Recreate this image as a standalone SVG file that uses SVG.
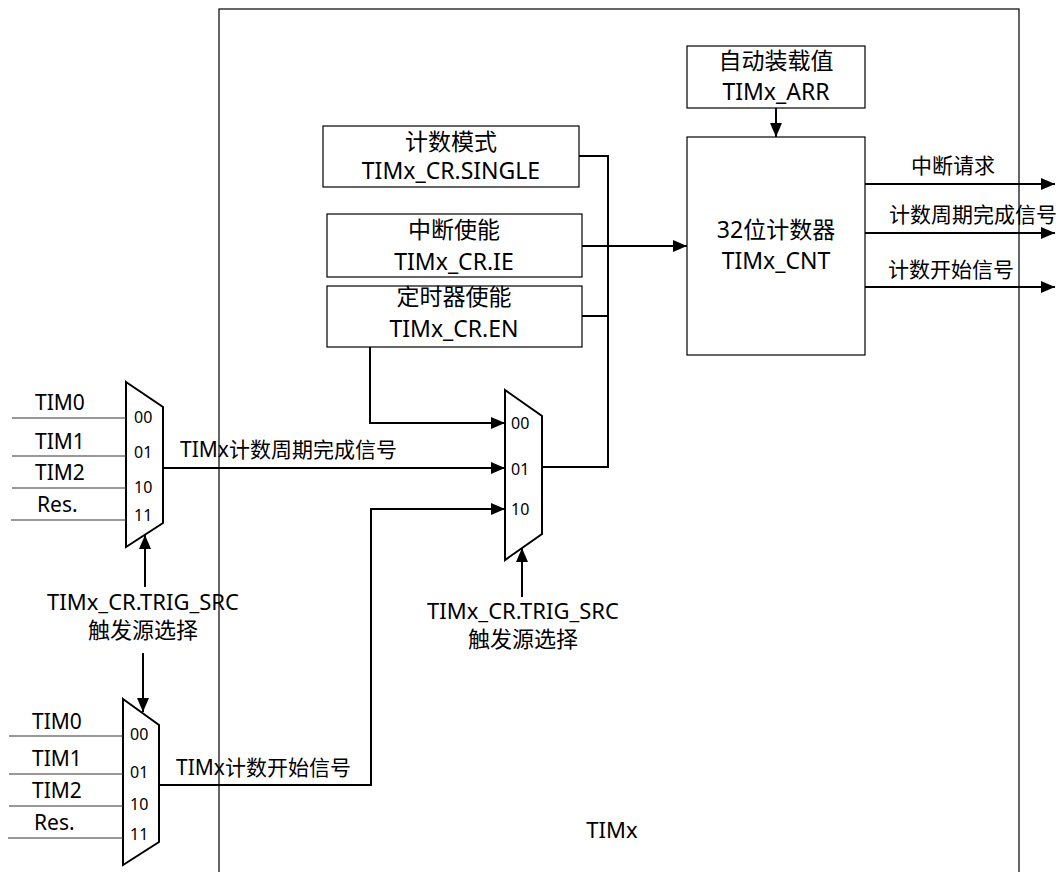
<svg xmlns="http://www.w3.org/2000/svg" width="1059" height="872" viewBox="0 0 1059 872">
<style>
text{font-family:"Noto Sans","Noto Sans CJK SC",sans-serif;fill:#000}
.bt{font-size:23px;text-anchor:middle}
.tr{font-size:22px;text-anchor:middle}
.lb{font-size:21px}
.sm{font-size:16px}
.box{fill:#fff;stroke:#000;stroke-width:1.2}
.mux{fill:#fff;stroke:#000;stroke-width:2}
.in{stroke:#333;stroke-width:1.2;fill:none}
.c{stroke:#000;stroke-width:2;fill:none}
</style>
<defs>
<marker id="arr" viewBox="0 0 14 12" refX="14" refY="6" markerWidth="14" markerHeight="12" markerUnits="userSpaceOnUse" orient="auto"><path d="M0,0 L14,6 L0,12 z" fill="#000"/></marker>
</defs>
<rect width="1059" height="872" fill="#fff"/>
<g id="timx">
<rect x="219" y="9" width="800" height="880" fill="none" stroke="#000" stroke-width="1.2"/>
<text x="612" y="838" class="tr">TIMx</text>
</g>
<g id="arr-box">
<rect class="box" x="687" y="46" width="178" height="62"/>
<text class="bt" x="776" y="69">自动装载值</text>
<text class="bt" x="776" y="100">TIMx_ARR</text>
</g>
<g id="cnt">
<rect class="box" x="687" y="137" width="178" height="218"/>
<text class="bt" x="776" y="238">32位计数器</text>
<text class="bt" x="776" y="269">TIMx_CNT</text>
</g>
<g id="single">
<rect class="box" x="323" y="126" width="256" height="61"/>
<text class="bt" x="451" y="150">计数模式</text>
<text class="bt" x="451" y="179">TIMx_CR.SINGLE</text>
</g>
<g id="ie">
<rect class="box" x="327" y="214" width="255" height="63"/>
<text class="bt" x="454" y="238">中断使能</text>
<text class="bt" x="454" y="270">TIMx_CR.IE</text>
</g>
<g id="en">
<rect class="box" x="327" y="286" width="255" height="61"/>
<text class="bt" x="454" y="305">定时器使能</text>
<text class="bt" x="454" y="337">TIMx_CR.EN</text>
</g>
<g id="mux-mid">
<path class="mux" d="M505,390 L542,416 L542,534 L505,560 Z"/>
<text class="sm" x="511" y="429">00</text>
<text class="sm" x="511" y="475">01</text>
<text class="sm" x="511" y="515">10</text>
<text class="tr" x="523" y="619">TIMx_CR.TRIG_SRC</text>
<text class="tr" x="523" y="647">触发源选择</text>
</g>
<g id="mux-top">
<path class="mux" d="M126,382 L163,407 L163,523 L126,547 Z"/>
<path class="in" d="M12,418 H126 M12,456 H126 M12,488 H126 M11,520 H126"/>
<text class="lb" x="35" y="410">TIM0</text>
<text class="lb" x="35" y="449">TIM1</text>
<text class="lb" x="35" y="480">TIM2</text>
<text class="lb" x="37" y="512">Res.</text>
<text class="sm" x="134" y="423">00</text>
<text class="sm" x="134" y="458">01</text>
<text class="sm" x="134" y="493">10</text>
<text class="sm" x="134" y="521">11</text>
<text class="tr" x="143" y="610">TIMx_CR.TRIG_SRC</text>
<text class="tr" x="143" y="638">触发源选择</text>
</g>
<g id="mux-bot">
<path class="mux" d="M123,699 L159,725 L159,842 L123,865 Z"/>
<path class="in" d="M9,736 H123 M9,774 H123 M9,806 H123 M8,838 H123"/>
<text class="lb" x="32" y="729">TIM0</text>
<text class="lb" x="32" y="766">TIM1</text>
<text class="lb" x="32" y="798">TIM2</text>
<text class="lb" x="34" y="830">Res.</text>
<text class="sm" x="130" y="740">00</text>
<text class="sm" x="130" y="778">01</text>
<text class="sm" x="130" y="810">10</text>
<text class="sm" x="130" y="840">11</text>
</g>
<g id="connectors">
<path class="c" d="M776,108 V137" marker-end="url(#arr)"/>
<path class="c" d="M865,184 H1055" marker-end="url(#arr)"/>
<path class="c" d="M865,233 H1055" marker-end="url(#arr)"/>
<path class="c" d="M865,287 H1055" marker-end="url(#arr)"/>
<path class="c" d="M579,156 H608 V467 H542"/>
<path class="c" d="M582,316 H608"/>
<path class="c" d="M582,246 H687" marker-end="url(#arr)"/>
<path class="c" d="M370,347 V423 H505" marker-end="url(#arr)"/>
<path class="c" d="M163,468 H505" marker-end="url(#arr)"/>
<path class="c" d="M159,785 H371 V509 H505" marker-end="url(#arr)"/>
<path class="c" d="M522,597 V548" marker-end="url(#arr)"/>
<path class="c" d="M145,587 V535" marker-end="url(#arr)"/>
<path class="c" d="M143,653 V712" marker-end="url(#arr)"/>
<text class="lb" x="953" y="173" text-anchor="middle">中断请求</text>
<text class="lb" x="973" y="222" text-anchor="middle">计数周期完成信号</text>
<text class="lb" x="951" y="277" text-anchor="middle">计数开始信号</text>
<text class="lb" x="180" y="457">TIMx计数周期完成信号</text>
<text class="lb" x="176" y="775">TIMx计数开始信号</text>
</g>
</svg>
